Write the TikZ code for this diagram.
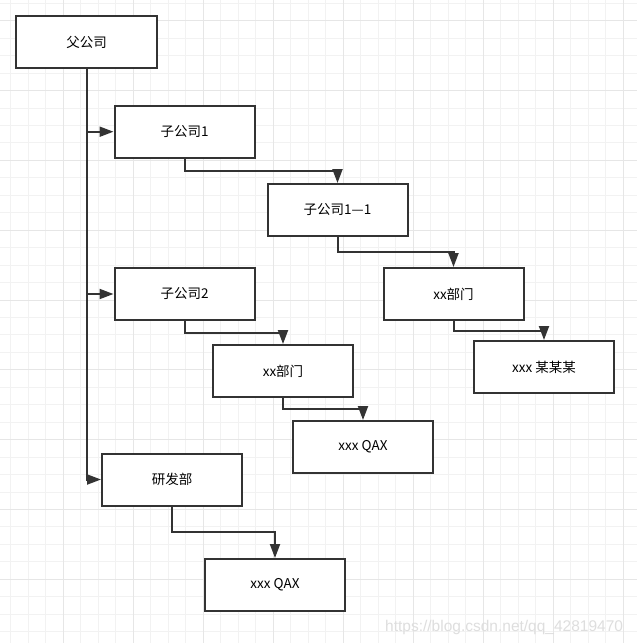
\documentclass[tikz,border=0pt]{standalone}
\usepackage{fontspec}
\setmainfont{Noto Sans CJK SC}
\newfontfamily\markfont{Liberation Sans}
\usetikzlibrary{arrows.meta,positioning,calc}
\definecolor{linegray}{RGB}{51,51,51}
\definecolor{gridminor}{RGB}{242,242,242}
\definecolor{gridmajor}{RGB}{230,230,230}
\definecolor{markgray}{RGB}{222,222,222}

\begin{document}
\begin{tikzpicture}[
  x=1pt, y=1pt,
  font=\fontsize{13.5}{16}\selectfont,
  box/.style={draw=linegray, line width=2pt, fill=white, minimum width=140pt, minimum height=52pt, inner sep=0pt},
  arr/.style={-{Triangle[length=14pt, width=10pt]}, draw=linegray, line width=2pt},
  gridline/.style={line width=1pt}
]
\fill[white] (0,0) rectangle (637,-643);
\useasboundingbox (0,0) rectangle (637,-643);
\foreach \k in {0,...,35} \draw[gridline, gridminor] ({10.7+17.5*\k},0) -- ++(0,-643);
\foreach \k in {0,...,36} \draw[gridline, gridminor] (0,{-3.3-17.456*\k}) -- ++(637,0);
\foreach \k in {3,7,...,35} \draw[gridline, gridmajor] ({10.7+17.5*\k},0) -- ++(0,-643);
\foreach \k in {1,5,...,33} \draw[gridline, gridmajor] (0,{-3.3-17.456*\k}) -- ++(637,0);
\node[font=\markfont\fontsize{15.5}{18}\selectfont, text=markgray, anchor=base west, inner sep=0pt] (mark) at (385,-631) {https://blog.csdn.net/qq\_42819470};

\node[box, minimum width=141pt] (parent) at (86.5,-42) {父公司};
\node[box] (sub1) at (184.5,-131.7) {子公司1};
\node[box] (sub11) at (337.5,-210) {子公司1—1};
\node[box] (deptA) at (453.5,-294) {xx部门};
\node[box] (person) at (544,-367) {xxx 某某某};
\node[box] (sub2) at (184.5,-294) {子公司2};
\node[box] (deptB) at (283,-371) {xx部门};
\node[box] (qaxA) at (363,-447) {xxx QAX};
\node[box] (rnd) at (172,-479.5) {研发部};
\node[box] (qaxB) at (275,-585) {xxx QAX};

\draw[arr] (parent.south) |- (rnd.west);
\draw[arr] (parent.south |- sub1.west) -- (sub1.west);
\draw[arr] (parent.south |- sub2.west) -- (sub2.west);
\draw[arr] (sub1.south) |- ($(sub1.south)!.5!(sub11.north)$) -| (sub11.north);
\draw[arr] (sub11.south) |- ($(sub11.south)!.5!(deptA.north)$) -| (deptA.north);
\draw[arr] (deptA.south) |- ($(deptA.south)!.5!(person.north)$) -| (person.north);
\draw[arr] (sub2.south) |- ($(sub2.south)!.5!(deptB.north)$) -| (deptB.north);
\draw[arr] (deptB.south) |- ($(deptB.south)!.5!(qaxA.north)$) -| (qaxA.north);
\draw[arr] (rnd.south) |- ($(rnd.south)!.5!(qaxB.north)$) -| (qaxB.north);
\end{tikzpicture}
\end{document}
